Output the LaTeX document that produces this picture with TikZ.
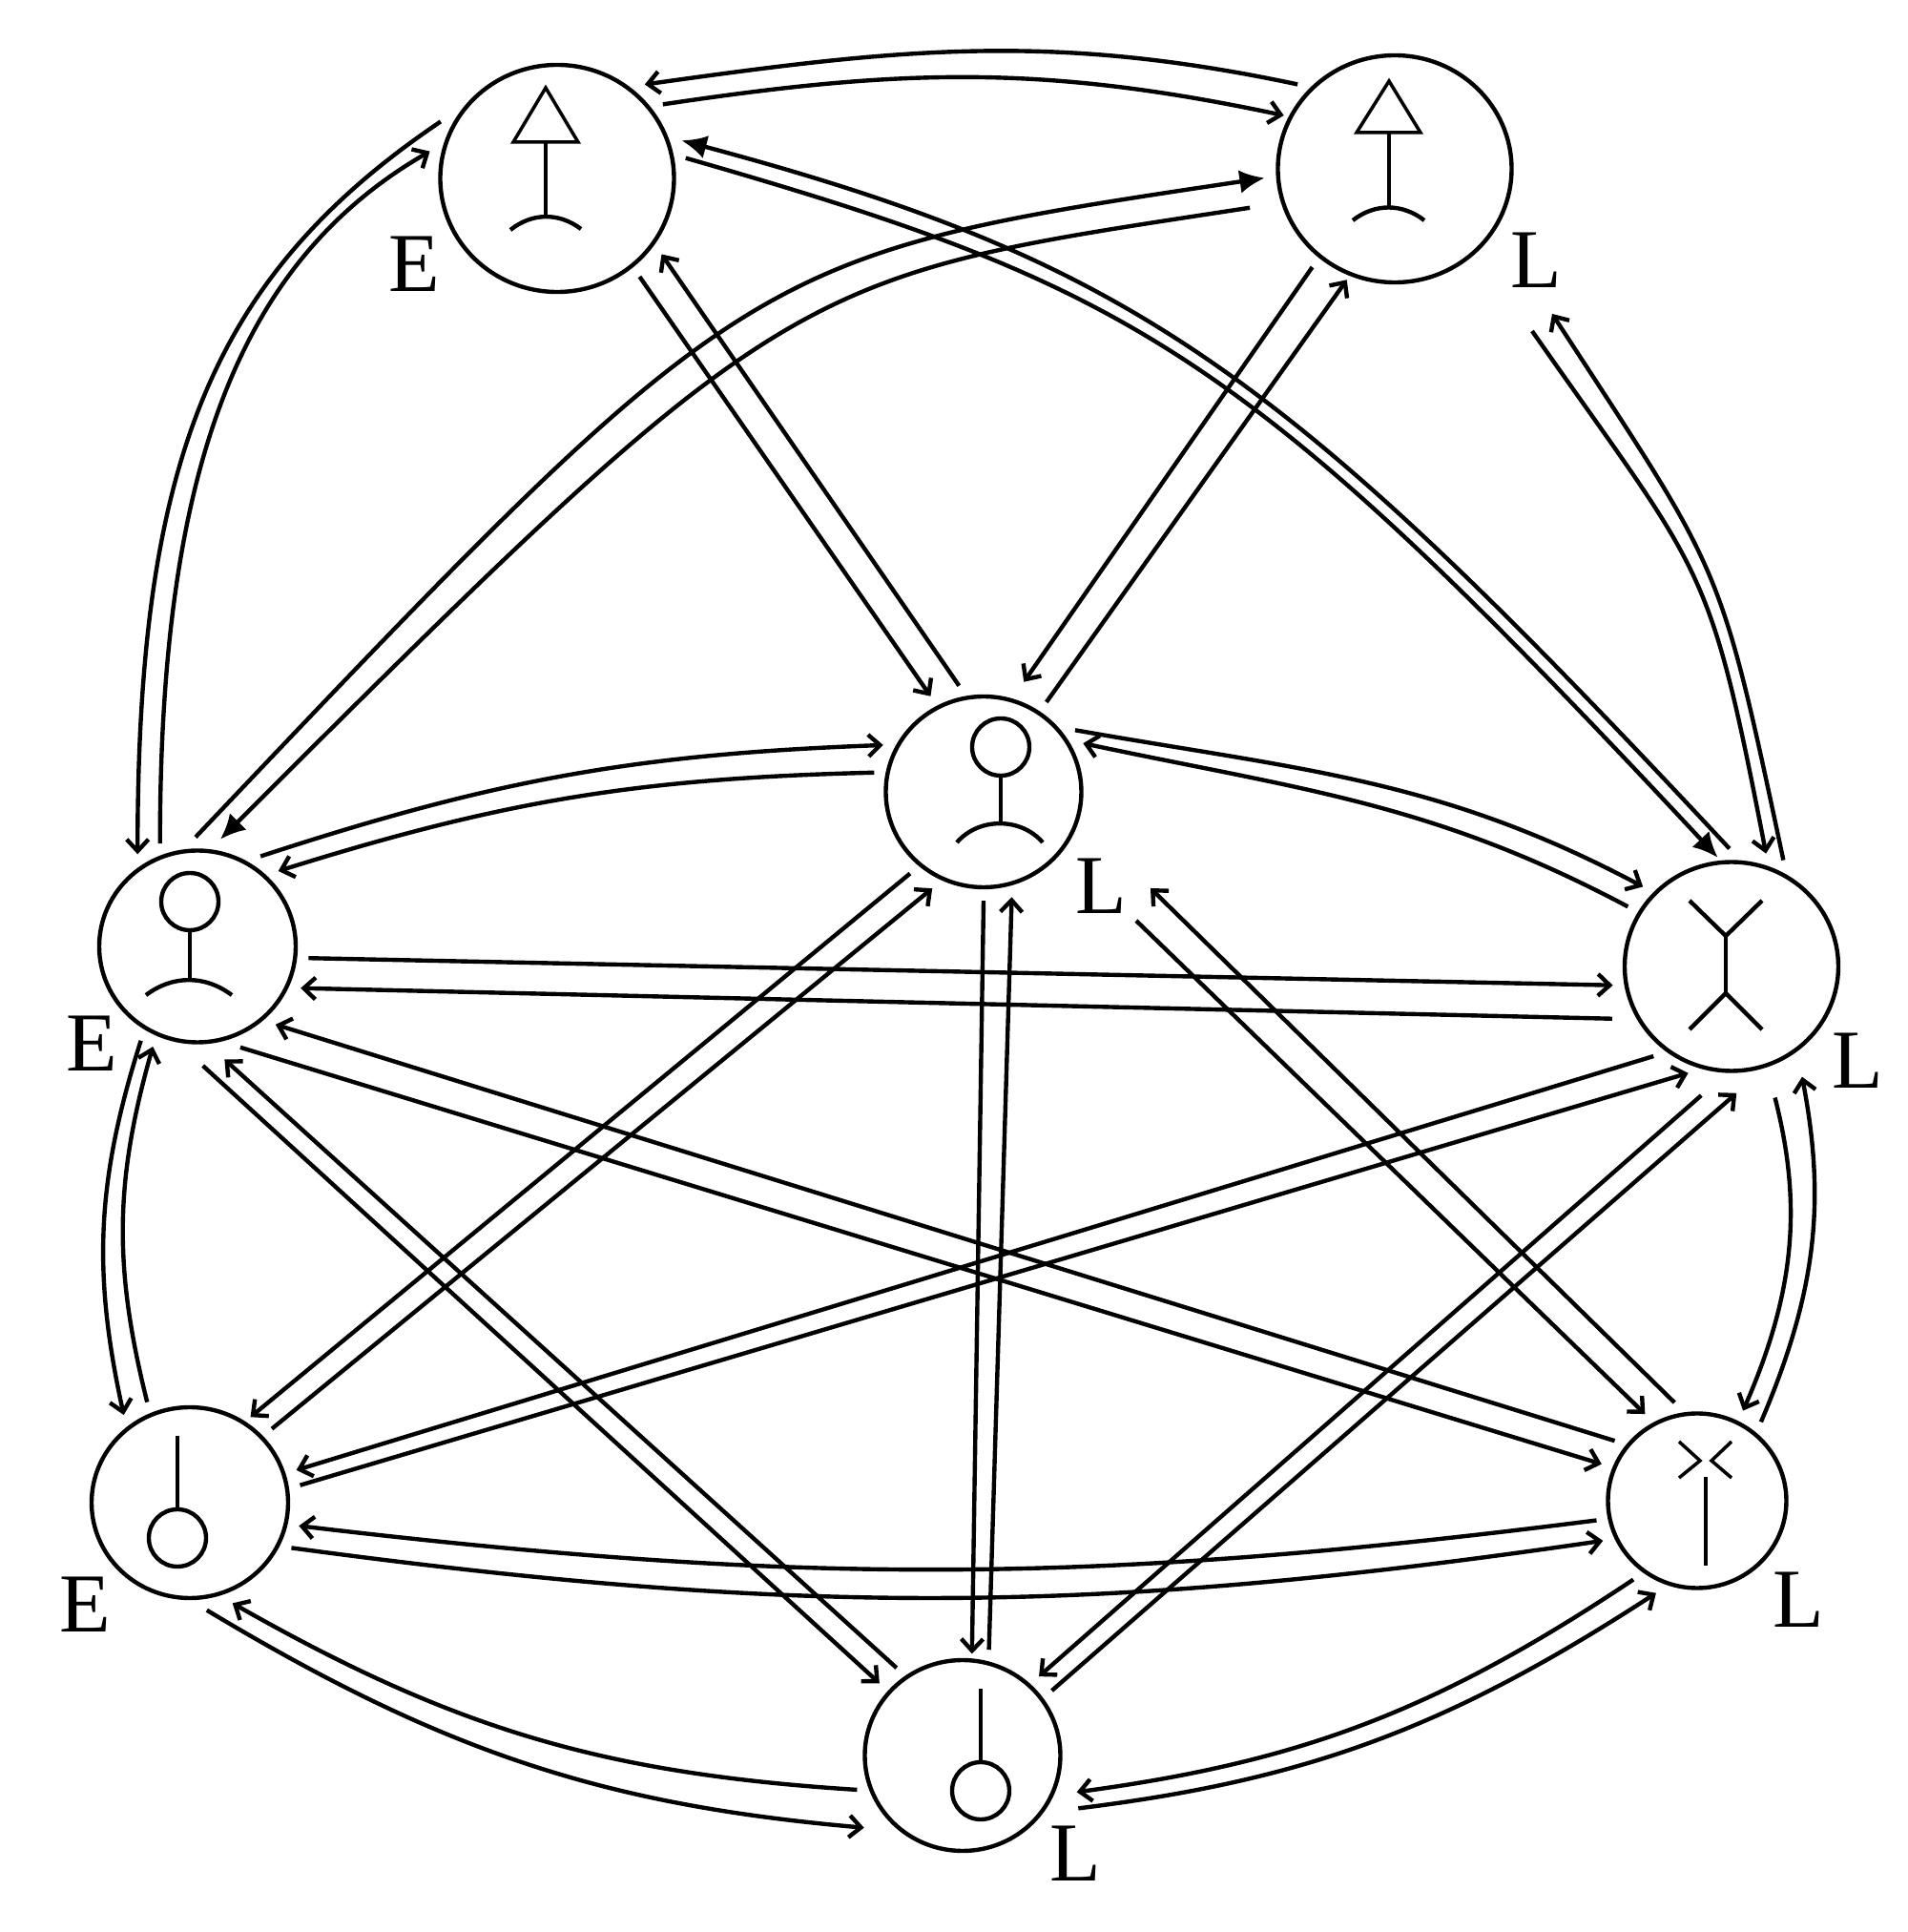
\documentclass[tikz,border=0pt]{standalone}
\usepackage{fontspec}
\setmainfont{Liberation Serif}
\usetikzlibrary{arrows.meta,shapes.geometric}

\begin{document}
\begin{tikzpicture}[every path/.style={>={Straight Barb[length=3.5pt,width=6.5pt]}},
                    line width=1.25pt,
                    site/.style={draw,ellipse,inner sep=0pt,outer sep=4pt},
                    tag/.style={font=\fontsize{25}{25}\selectfont,inner sep=0pt},
                    solid tip/.style={-{Latex[length=7.5pt,width=7pt]}}]
  \useasboundingbox (-0.02,0) rectangle (19.97,20.25);
  % the eight sites
  \node[site,minimum width=2.45cm,minimum height=2.38cm] (a) at (5.82,18.38) {};
  \node[site,minimum width=2.45cm,minimum height=2.38cm] (b) at (14.60,18.48) {};
  \node[site,minimum width=2.05cm,minimum height=2.00cm] (c) at (10.29,11.95) {};
  \node[site,minimum width=2.06cm,minimum height=2.01cm] (d) at (2.05,10.33) {};
  \node[site,minimum width=2.24cm,minimum height=2.19cm] (f) at (18.13,10.12) {};
  \node[site,minimum width=2.06cm,minimum height=2.00cm] (g) at (1.97,4.50) {};
  \node[site,minimum width=1.87cm,minimum height=1.83cm] (h) at (17.77,4.52) {};
  \node[site,minimum width=2.05cm,minimum height=2.00cm] (i) at (10.07,1.85) {};
  % labels
  \node[tag] (ta) at (4.32,17.48) {E};
  \node[tag] (tb) at (16.08,17.52) {L};
  \node[tag] (tc) at (11.52,10.96) {L};
  \node[tag] (td) at (0.94,9.31) {E};
  \node[tag] (tf) at (19.45,9.13) {L};
  \node[tag] (tg) at (0.87,3.43) {E};
  \node[tag] (th) at (18.83,3.48) {L};
  \node[tag] (ti) at (11.25,0.82) {L};
  % free ends past the labels
  \coordinate (ub1) at (16.25,16.96);
  \coordinate (ub2) at (16.04,16.78);
  \coordinate (uc1) at (11.89,10.60);
  \coordinate (uc2) at (12.04,10.94);
  % glyphs
  \draw[line width=1pt] (5.70,19.33) -- (5.36,18.76) -- (6.04,18.76) -- cycle;
  \draw (5.70,18.76) -- (5.70,17.98);
  \draw (5.33,17.84) to[bend left=38] (6.07,17.85);
  \draw[line width=1pt] (14.54,19.40) -- (14.20,18.86) -- (14.87,18.86) -- cycle;
  \draw (14.54,18.86) -- (14.54,18.07);
  \draw (14.16,17.94) to[bend left=38] (14.91,17.94);
  \draw (10.47,12.42) circle (.30);
  \draw (10.47,12.12) -- (10.47,11.62);
  \draw (10.01,11.42) to[bend left=49] (10.91,11.42);
  \draw (1.97,10.80) circle (.30);
  \draw (1.97,10.50) -- (1.97,9.98);
  \draw (1.51,9.82) to[bend left=37] (2.41,9.82);
  \draw (17.69,10.81) -- (18.07,10.44) -- (18.45,10.81);
  \draw (18.07,10.44) -- (18.07,9.84);
  \draw (17.69,9.46) -- (18.07,9.84) -- (18.45,9.46);
  \draw (1.84,5.20) -- (1.84,4.42);
  \draw (1.84,4.13) circle (.30);
  \draw[line width=1pt] (17.58,5.14) -- (17.80,4.94) -- (17.58,4.76);
  \draw[line width=1pt] (18.13,5.14) -- (17.92,4.94) -- (18.13,4.76);
  \draw[line width=1pt] (17.86,4.77) -- (17.86,3.84);
  \draw (10.26,2.55) -- (10.26,1.78);
  \draw (10.26,1.48) circle (.30);
  % curved pairs
  \draw[->] (b.139) to[out=168,in=8] (a.47);
  \draw[->,shorten >=-2pt] (a.35) to[out=8.5,in=168] (b.155);
  \draw[solid tip] (f.91) to[out=133,in=-15,out looseness=1.31,in looseness=.95] (a.17);
  \draw[solid tip,shorten >=-3pt] (a.9.5) to[out=-16,in=133,out looseness=.97,in looseness=1.41] (f.100);
  \draw[solid tip] (d.91) to[out=46.5,in=188.5,out looseness=1.63,in looseness=1.06] (b.184.5);
  \draw[solid tip,shorten <=6pt] (b.196) to[out=188.7,in=45,out looseness=1,in looseness=1.69] (d.78.5);
  \draw[->] (d.110) to[out=90,in=210,out looseness=1.29,in looseness=.76] (a.168.5);
  \draw[->] (a.154) to[out=214,in=90,out looseness=.89,in looseness=1.27] (d.123.5);
  \draw[->] (f.64) to[out=102,in=-57,looseness=1.35] (ub1);
  \draw[->] (ub2) to[out=-55,in=101,looseness=1.35] (f.73);
  \draw[->] (d.55.5) to[bend left=8] (c.155);
  \draw[->] (c.170.5) to[bend right=8] (d.43);
  \draw[->] (c.34) to[out=-10,in=152] (f.138);
  \draw[->] (f.150) to[out=152,in=-12] (c.26);
  \draw[->] (d.239) to[bend right=15] (g.127.5);
  \draw[->] (g.113) to[bend left=15] (d.246);
  \draw[->,shorten <=6pt] (f.-71) to[bend left=19] (h.63);
  \draw[->,shorten >=4pt] (h.51.5) to[bend right=17] (f.-55);
  \draw[->] (h.191.5) to[bend left=7] (g.-12.5);
  \draw[->] (g.-24) to[bend right=8] (h.203);
  \draw[->] (i.198.5) to[bend left=13] (g.-67);
  \draw[->,shorten >=5pt] (g.-81.5) to[bend right=13] (i.222);
  \draw[->,shorten >=3pt] (h.231.5) to[bend left=13] (i.-20);
  \draw[->,shorten <=6pt] (i.-30) to[bend right=13] (h.246);
  % straight pairs
  \draw[->] (a.-50.5) -- (c.119);
  \draw[->] (c.103.5) -- (a.-36);
  \draw[->,shorten >=-2pt] (c.55.5) -- (b.-114);
  \draw[->,shorten >=2.5pt] (b.230.5) -- (c.71);
  \draw[->] (d.-6.5) -- (f.189.5);
  \draw[->,shorten <=3.5pt] (f.206) -- (d.-22);
  \draw[->,shorten >=-1.5pt] (c.228.5) -- (g.54.5);
  \draw[->] (g.42) -- (c.242);
  \draw[->,shorten >=-2pt] (c.270) -- (i.85);
  \draw[->] (i.76.5) -- (c.-75.5);
  \draw[->] (uc1) -- (h.121);
  \draw[->] (h.103.5) -- (uc2);
  \draw[->] (d.-67) -- (h.159.5);
  \draw[->] (h.144) -- (d.-45);
  \draw[->,shorten <=4.5pt] (d.-93) -- (i.139);
  \draw[->,shorten >=2.5pt] (i.127.5) -- (d.-79.5);
  \draw[->,shorten >=-1.5pt] (g.9.5) -- (f.246);
  \draw[->] (f.229.5) -- (g.17.5);
  \draw[->,shorten <=5.5pt] (f.262) -- (i.46);
  \draw[->,shorten >=4.5pt] (i.36) -- (f.-82.5);
\end{tikzpicture}
\end{document}
